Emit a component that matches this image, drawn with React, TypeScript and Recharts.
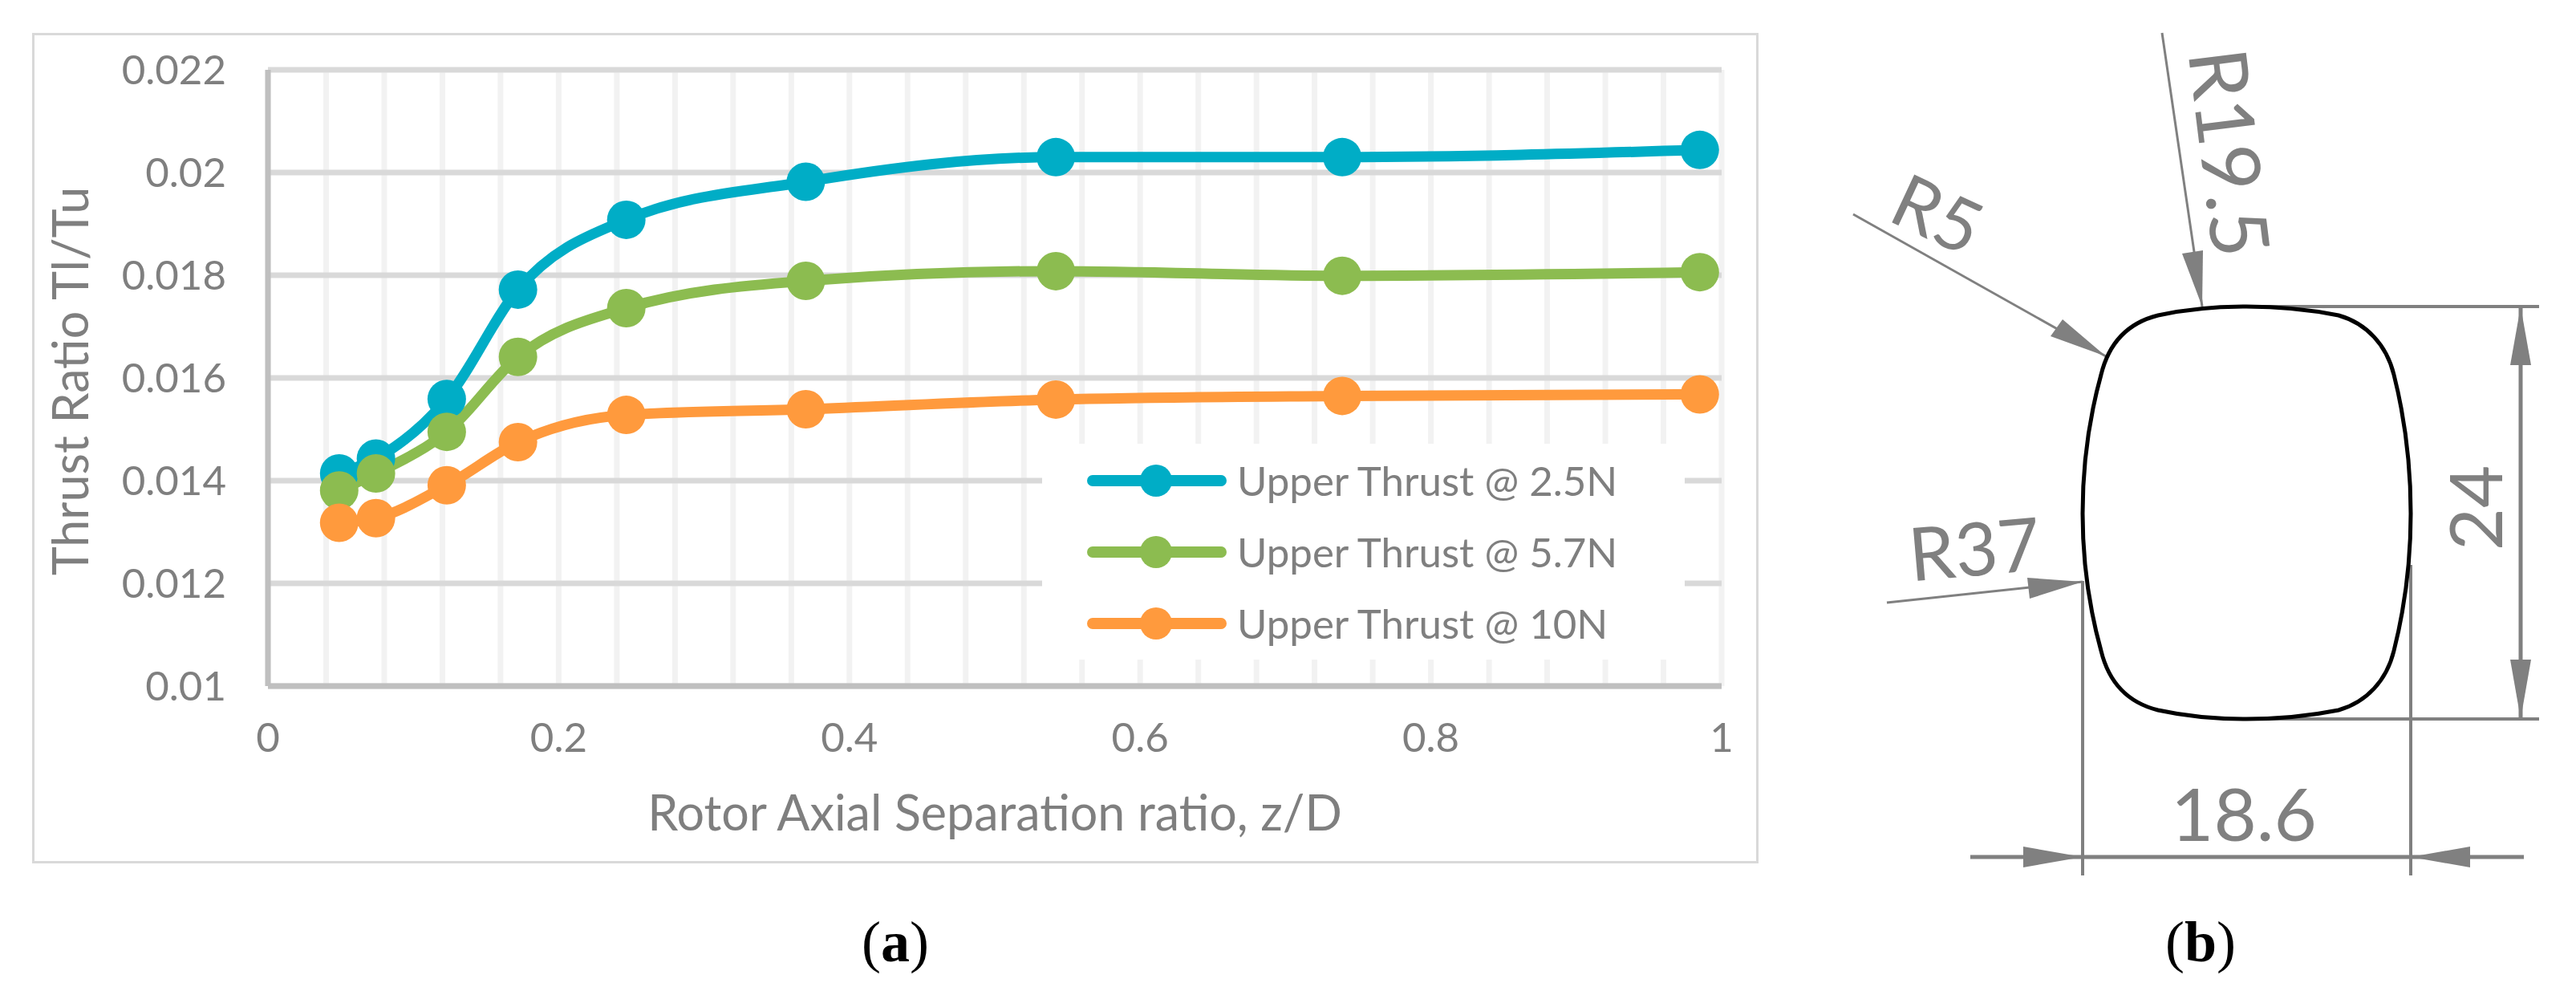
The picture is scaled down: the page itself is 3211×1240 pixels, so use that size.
import { LineChart, Line, XAxis, YAxis, CartesianGrid, Legend } from "recharts"

const separation = [0.049, 0.0743, 0.123, 0.172, 0.2465, 0.37, 0.542, 0.739, 0.985]
const thrust25 = [0.01414, 0.01443, 0.01559, 0.01772, 0.01908, 0.01982, 0.0203, 0.0203, 0.02044]
const thrust57 = [0.01381, 0.01414, 0.01495, 0.01641, 0.01736, 0.01789, 0.01808, 0.01799, 0.01806]
const thrust10 = [0.01318, 0.01327, 0.01391, 0.01475, 0.01528, 0.01539, 0.01558, 0.01565, 0.01568]

const xTicks = [0, 0.04, 0.08, 0.12, 0.16, 0.2, 0.24, 0.28, 0.32, 0.36, 0.4, 0.44, 0.48, 0.52, 0.56, 0.6, 0.64, 0.68, 0.72, 0.76, 0.8, 0.84, 0.88, 0.92, 0.96, 1]
const xLabels = [0, 0.2, 0.4, 0.6, 0.8, 1]
const yTicks = [0.01, 0.012, 0.014, 0.016, 0.018, 0.02, 0.022]

const series = [
  { key: "a", name: "Upper Thrust @ 2.5N", color: "#00adc6", values: thrust25 },
  { key: "b", name: "Upper Thrust @ 5.7N", color: "#8cbc50", values: thrust57 },
  { key: "c", name: "Upper Thrust @ 10N", color: "#ff9a3d", values: thrust10 },
]

const chartData = separation.map((x, i) => ({
  x,
  a: thrust25[i],
  b: thrust57[i],
  c: thrust10[i],
}))

const GREY = "#7f7f7f"
const DIM = "#808080"
const FONT = "Lato, Carlito, sans-serif"

function LegendBox({ payload }: any) {
  return (
    <div style={{ position: "relative", width: 801, height: 269, background: "#fff" }}>
      {(payload || []).map((p: any, i: number) => (
        <div key={p.value} style={{ position: "absolute", left: 0, top: 46 + i * 89 - 30, height: 60, width: 801 }}>
          <svg width={240} height={60} style={{ position: "absolute", left: 0, top: 0 }}>
            <line x1={63} x2={223} y1={30} y2={30} stroke={p.color} strokeWidth={14} strokeLinecap="round" />
            <circle cx={142} cy={30} r={20} fill={p.color} />
          </svg>
          <span style={{ position: "absolute", left: 243, top: 0, lineHeight: "60px", fontSize: 51, color: GREY, fontFamily: FONT, whiteSpace: "nowrap" }}>
            {p.value}
          </span>
        </div>
      ))}
    </div>
  )
}

function arrow(tip: number[], a: number[], b: number[]) {
  return `${tip[0]},${tip[1]} ${a[0]},${a[1]} ${b[0]},${b[1]}`
}

// panel (b): the section drawing, not data
function SectionDrawing() {
  const dimText = { fill: DIM, fontFamily: FONT, fontSize: 92, fontWeight: 400 } as const
  return (
    <svg width={3211} height={1240} style={{ position: "absolute", left: 0, top: 0, pointerEvents: "none" }}>
      <g stroke={DIM} strokeWidth={4} fill="none">
        <line x1={2800} y1={382} x2={3165} y2={382} />
        <line x1={2800} y1={896} x2={3165} y2={896} />
        <line x1={3142} y1={382} x2={3142} y2={896} strokeWidth={5} />
        <line x1={2596} y1={724} x2={2596} y2={1091} />
        <line x1={3005} y1={704} x2={3005} y2={1091} />
        <line x1={2456} y1={1068} x2={3146} y2={1068} strokeWidth={5} />
        <line x1={2310} y1={267} x2={2625} y2={444} strokeWidth={3} />
        <line x1={2695} y1={41} x2={2745} y2={382} strokeWidth={3} />
        <line x1={2352} y1={751} x2={2596} y2={725} strokeWidth={3} />
      </g>
      <g fill={DIM}>
        <polygon points={arrow([3142, 382], [3129, 455], [3155, 455])} />
        <polygon points={arrow([3142, 896], [3129, 822], [3155, 822])} />
        <polygon points={arrow([2596, 1068], [2522, 1055], [2522, 1081])} />
        <polygon points={arrow([3005, 1068], [3079, 1055], [3079, 1081])} />
        <polygon points={arrow([2625, 444], [2571, 398], [2556, 419])} />
        <polygon points={arrow([2745, 382], [2720, 316], [2746, 312])} />
        <polygon points={arrow([2596, 725], [2527, 720], [2530, 746])} />
      </g>
      <path
        d="M2800 382 Q2740 382 2690 393 C2650 403 2628 430 2619 467 Q2596 550 2596 640 Q2596 728 2619 811 C2628 848 2650 875 2690 885 Q2740 896 2800 896 Q2860 896 2915 885 C2950 875 2975 848 2984 811 Q3005 728 3005 640 Q3005 550 2984 467 C2975 430 2950 403 2915 393 Q2860 382 2800 382 Z"
        fill="#fff"
        stroke="#000"
        strokeWidth={5}
      />
      <text {...dimText} textAnchor="middle" dominantBaseline="central" transform="translate(2416 265) rotate(25)">R5</text>
      <text {...dimText} fontSize={100} textAnchor="middle" dominantBaseline="central" transform="translate(2782 190) rotate(83)">R19.5</text>
      <text {...dimText} textAnchor="middle" dominantBaseline="central" transform="translate(2461 682) rotate(-5)">R37</text>
      <text {...dimText} textAnchor="middle" dominantBaseline="central" x={2797} y={1012}>18.6</text>
      <text {...dimText} textAnchor="middle" dominantBaseline="central" transform="translate(3083 633) rotate(-90)">24</text>
      <text x={1116} y={1174} textAnchor="middle" dominantBaseline="central" fontFamily="Liberation Serif" fontSize={72} fill="#000">
        (<tspan fontWeight="bold">a</tspan>)
      </text>
      <text x={2743} y={1174} textAnchor="middle" dominantBaseline="central" fontFamily="Liberation Serif" fontSize={72} fill="#000">
        (<tspan fontWeight="bold">b</tspan>)
      </text>
    </svg>
  )
}

export default function App() {
  return (
    <div style={{ position: "absolute", left: 0, top: 0, width: 3211, height: 1240, background: "#fff", overflow: "hidden" }}>
      <div style={{ position: "absolute", left: 40, top: 41, width: 2146, height: 1029, border: "3px solid #d9d9d9" }} />
      <div style={{ position: "absolute", left: 0, top: 0 }}>
        <LineChart
          width={3211}
          height={1240}
          data={chartData}
          margin={{ left: 34, right: 1065, top: 87, bottom: 40 }}
        >
          <CartesianGrid horizontal={false} stroke="#f2f2f2" strokeWidth={7} />
          <CartesianGrid vertical={false} stroke="#d9d9d9" strokeWidth={7} />
          <XAxis
            dataKey="x"
            type="number"
            domain={[0, 1]}
            ticks={xTicks}
            interval={0}
            tickLine={false}
            axisLine={{ stroke: "#bfbfbf", strokeWidth: 7 }}
            tick={{ fill: GREY, fontSize: 51, fontFamily: FONT }}
            tickMargin={40}
            tickFormatter={(v: number) => (xLabels.includes(v) ? String(v) : "")}
            height={345}
            label={{ value: "Rotor Axial Separation ratio, z/D", position: "insideBottom", offset: 165, fill: GREY, fontSize: 61, fontFamily: FONT }}
          />
          <YAxis
            type="number"
            domain={[0.01, 0.022]}
            ticks={yTicks}
            interval={0}
            tickLine={false}
            axisLine={{ stroke: "#bfbfbf", strokeWidth: 7 }}
            tick={{ fill: GREY, fontSize: 51, fontFamily: FONT }}
            tickMargin={46}
            width={300}
            label={{ value: "Thrust Ratio Tl/Tu", angle: -90, position: "insideLeft", offset: 54, dy: 4, fill: GREY, fontSize: 61, fontFamily: FONT, textAnchor: "middle" }}
          />
          <Legend
            layout="vertical"
            align="center"
            verticalAlign="middle"
            itemSorter={null}
            wrapperStyle={{ left: 1299, top: 553, width: 801, height: 269 }}
            content={(props: any) => <LegendBox {...props} />}
          />
          {series.map((s) => (
            <Line
              key={s.key}
              dataKey={s.key}
              name={s.name}
              type="monotone"
              stroke={s.color}
              strokeWidth={13}
              dot={{ r: 24, fill: s.color, stroke: s.color, strokeWidth: 0 }}
              isAnimationActive={false}
            />
          ))}
        </LineChart>
      </div>
      <SectionDrawing />
    </div>
  )
}
